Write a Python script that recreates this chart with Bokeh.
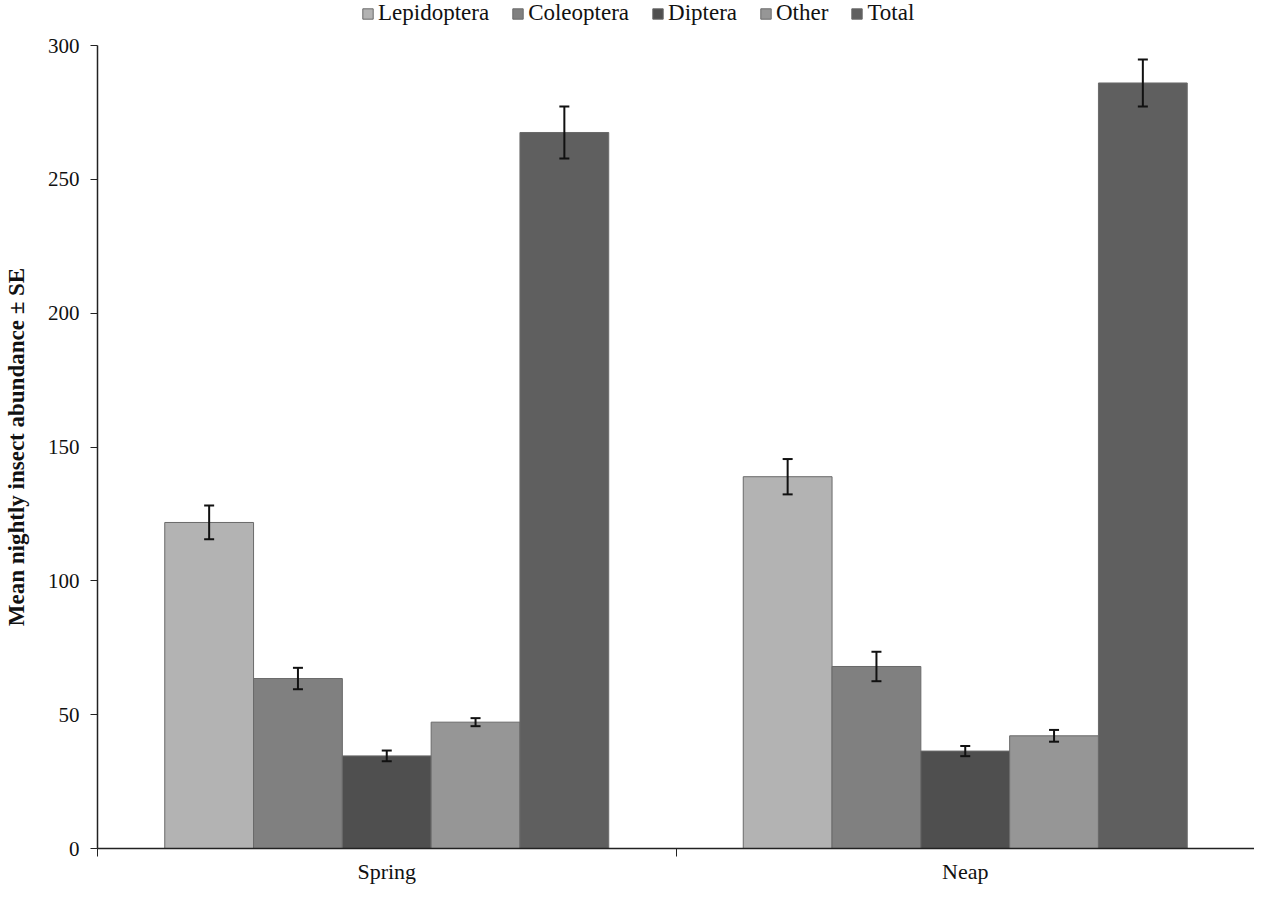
from bokeh.plotting import figure
from bokeh.layouts import column
from bokeh.models import ColumnDataSource, Legend, LegendItem, FixedTicker, LinearAxis, Whisker, TeeHead, Range1d
from bokeh.transform import dodge
from bokeh.embed import file_html
from bokeh.resources import INLINE

categories = ["Spring", "Neap"]
series = ["Lepidoptera", "Coleoptera", "Diptera", "Other", "Total"]
means = {
    "Lepidoptera": [121.8, 138.9],
    "Coleoptera": [63.5, 68.0],
    "Diptera": [34.6, 36.4],
    "Other": [47.2, 42.1],
    "Total": [267.5, 286.0],
}
errors = {
    "Lepidoptera": [6.3, 6.6],
    "Coleoptera": [4.0, 5.5],
    "Diptera": [2.0, 1.9],
    "Other": [1.5, 2.2],
    "Total": [9.7, 8.8],
}
colors = ["#b3b3b3", "#808080", "#4f4f4f", "#969696", "#5f5f5f"]
y_ticks = [0, 50, 100, 150, 200, 250, 300]

FONT = "Liberation Serif"
bar_w = 0.1535
EDGE = "#6a6a6a"
W = 1254
LEG_H = 26

# ---- legend strip (proxy glyphs lie outside the visible range) ----
lg = figure(width=W, height=LEG_H, output_backend="svg", toolbar_location=None,
            x_range=Range1d(0, 1), y_range=Range1d(0, 1),
            x_axis_location=None, y_axis_location=None,
            min_border=0, min_border_left=0, min_border_right=0, min_border_top=0, min_border_bottom=0)
lg.outline_line_color = None
lg.grid.visible = False
leg_items = []
for name, col in zip(series, colors):
    rr = lg.vbar(x=[-5], top=[-5], bottom=[-6], width=0.1, fill_color=col, line_color=EDGE, line_width=1)
    leg_items.append(LegendItem(label=name, renderers=[rr]))
legend = Legend(items=leg_items, orientation="horizontal", location=(264, 0))
legend.label_text_font = FONT
legend.label_text_font_size = "23px"
legend.label_text_color = "#111111"
legend.label_height = 20
legend.glyph_width = 13
legend.glyph_height = 13
legend.label_standoff = 4
legend.spacing = 22
legend.padding = 0
legend.margin = 0
legend.border_line_color = None
legend.background_fill_alpha = 0
lg.add_layout(legend)

# ---- main chart ----
p = figure(width=W, height=886 - LEG_H, output_backend="svg", toolbar_location=None,
           x_range=Range1d(0, len(categories)), y_range=Range1d(0, 300),
           min_border_left=10, min_border_right=0, min_border_bottom=0, min_border_top=19)
p.outline_line_color = None
p.grid.visible = False
p.xaxis.visible = False
p.yaxis.visible = False

centers = [i + 0.5 for i in range(len(categories))]
for k, (name, col) in enumerate(zip(series, colors)):
    m = means[name]
    e = errors[name]
    src = ColumnDataSource(dict(x=centers, top=m,
                                upper=[a + b for a, b in zip(m, e)],
                                lower=[a - b for a, b in zip(m, e)]))
    off = (k - (len(series) - 1) / 2) * bar_w
    p.vbar(x=dodge("x", off, range=p.x_range), top="top", bottom=0, width=bar_w,
           source=src, fill_color=col, line_color=EDGE, line_width=1)
    w = Whisker(base=dodge("x", off, range=p.x_range), upper="upper", lower="lower", source=src,
                line_color="#111111", line_width=2, level="overlay",
                upper_head=TeeHead(size=10, line_color="#111111", line_width=2),
                lower_head=TeeHead(size=10, line_color="#111111", line_width=2))
    p.add_layout(w)

yax = LinearAxis(ticker=FixedTicker(ticks=y_ticks, minor_ticks=[]),
                 axis_label="Mean nightly insect abundance ± SE")
yax.axis_label_text_font = FONT
yax.axis_label_text_font_style = "bold"
yax.axis_label_text_font_size = "23px"
yax.axis_label_text_color = "#111111"
yax.axis_label_standoff = 16
yax.major_label_text_font = FONT
yax.major_label_text_font_size = "21px"
yax.major_label_text_color = "#111111"
yax.major_tick_in = 0
yax.major_tick_out = 7
yax.major_label_standoff = 11
yax.axis_line_color = "#222222"
yax.major_tick_line_color = "#222222"
yax.axis_line_width = 1.5
p.add_layout(yax, "left")

xax1 = LinearAxis(ticker=FixedTicker(ticks=list(range(len(categories) + 1)), minor_ticks=[]))
xax1.major_label_overrides = {i: "" for i in range(len(categories) + 1)}
xax1.major_label_text_font_size = "1px"
xax1.major_tick_in = 0
xax1.major_tick_out = 8
xax1.major_label_standoff = 0
xax1.axis_line_color = "#222222"
xax1.major_tick_line_color = "#222222"
xax1.axis_line_width = 1.5
p.add_layout(xax1, "below")

xax2 = LinearAxis(ticker=FixedTicker(ticks=centers, minor_ticks=[]))
xax2.major_label_overrides = {c: n for c, n in zip(centers, categories)}
xax2.major_label_text_font = FONT
xax2.major_label_text_font_size = "22px"
xax2.major_label_text_color = "#111111"
xax2.axis_line_color = None
xax2.major_tick_line_color = None
xax2.major_tick_in = 0
xax2.major_tick_out = 0
xax2.major_label_standoff = 2
p.add_layout(xax2, "below")

layout = column(lg, p, spacing=0)
open("out.html", "w").write(file_html(layout, INLINE))
